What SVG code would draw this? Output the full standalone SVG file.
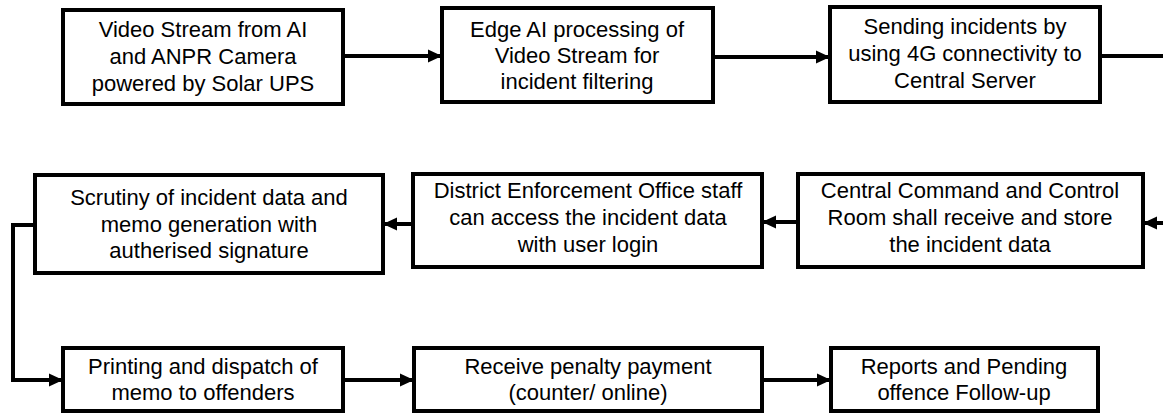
<svg xmlns="http://www.w3.org/2000/svg" width="1163" height="414" viewBox="0 0 1163 414">
  <style>
    .box { fill: #ffffff; stroke: #000000; stroke-width: 4; }
    .lbl { font-family: "Liberation Sans", Arial, sans-serif; font-size: 22px; fill: #000000; text-anchor: middle; }
    .conn { fill: none; stroke: #000000; stroke-width: 4; }
  </style>
  <defs>
    <marker id="arrow" markerUnits="userSpaceOnUse" markerWidth="14" markerHeight="14" refX="13" refY="7" orient="auto">
      <path d="M0,0.5 L14,7 L0,13.5 z" fill="#000000"/>
    </marker>
  </defs>
  <rect width="1163" height="414" fill="#ffffff"/>

  <g id="connectors">
    <path class="conn" d="M343,56 L441,56" marker-end="url(#arrow)"/>
    <path class="conn" d="M713,57 L829,57" marker-end="url(#arrow)"/>
    <path class="conn" d="M1100,56 L1163,56"/>
    <path class="conn" d="M1163,223 L1144,223" marker-end="url(#arrow)"/>
    <path class="conn" d="M798,222 L763,222" marker-end="url(#arrow)"/>
    <path class="conn" d="M413,224 L384,224" marker-end="url(#arrow)"/>
    <path class="conn" d="M35,225 L13,225 L13,380 L62,380" marker-end="url(#arrow)"/>
    <path class="conn" d="M343,380 L413,380" marker-end="url(#arrow)"/>
    <path class="conn" d="M762,380 L830,380" marker-end="url(#arrow)"/>
  </g>

  <g id="node1">
    <rect class="box" x="63" y="10" width="280" height="94"/>
    <text class="lbl" x="203" y="37">Video Stream from AI</text>
    <text class="lbl" x="203" y="64">and ANPR Camera</text>
    <text class="lbl" x="203" y="91">powered by Solar UPS</text>
  </g>
  <g id="node2">
    <rect class="box" x="442" y="8" width="271" height="94"/>
    <text class="lbl" x="577" y="37">Edge AI processing of</text>
    <text class="lbl" x="577" y="63">Video Stream for</text>
    <text class="lbl" x="577" y="89">incident filtering</text>
  </g>
  <g id="node3">
    <rect class="box" x="830" y="7" width="270" height="95"/>
    <text class="lbl" x="965" y="34">Sending incidents by</text>
    <text class="lbl" x="965" y="61">using 4G connectivity to</text>
    <text class="lbl" x="965" y="88">Central Server</text>
  </g>
  <g id="node4">
    <rect class="box" x="35" y="175" width="348" height="98"/>
    <text class="lbl" x="209" y="205">Scrutiny of incident data and</text>
    <text class="lbl" x="209" y="232">memo generation with</text>
    <text class="lbl" x="209" y="258">autherised signature</text>
  </g>
  <g id="node5">
    <rect class="box" x="413" y="174" width="349" height="93"/>
    <text class="lbl" x="588" y="198">District Enforcement Office staff</text>
    <text class="lbl" x="588" y="225">can access the incident data</text>
    <text class="lbl" x="588" y="252">with user login</text>
  </g>
  <g id="node6">
    <rect class="box" x="798" y="174" width="345" height="93"/>
    <text class="lbl" x="970" y="198">Central Command and Control</text>
    <text class="lbl" x="970" y="225">Room shall receive and store</text>
    <text class="lbl" x="970" y="252">the incident data</text>
  </g>
  <g id="node7">
    <rect class="box" x="63" y="348" width="280" height="63"/>
    <text class="lbl" x="203" y="374">Printing and dispatch of</text>
    <text class="lbl" x="203" y="400">memo to offenders</text>
  </g>
  <g id="node8">
    <rect class="box" x="414" y="348" width="348" height="63"/>
    <text class="lbl" x="588" y="374">Receive penalty payment</text>
    <text class="lbl" x="588" y="400">(counter/ online)</text>
  </g>
  <g id="node9">
    <rect class="box" x="831" y="348" width="267" height="63"/>
    <text class="lbl" x="964" y="374">Reports and Pending</text>
    <text class="lbl" x="964" y="400">offence Follow-up</text>
  </g>
</svg>
